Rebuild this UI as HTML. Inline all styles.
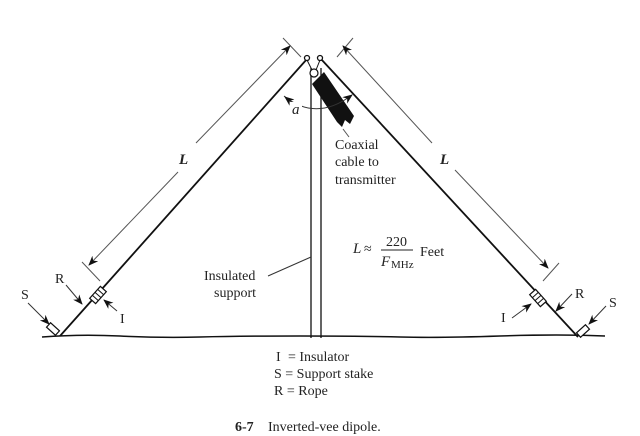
<!DOCTYPE html>
<html><head><style>
body{margin:0;background:#fff;}
svg{display:block;}
text{font-family:"Liberation Serif",serif;fill:#222;}
</style></head><body>
<svg width="640" height="436" viewBox="0 0 640 436" xmlns="http://www.w3.org/2000/svg">
<defs>
<marker id="ar" markerWidth="10" markerHeight="8" refX="9" refY="4" orient="auto" markerUnits="userSpaceOnUse">
<path d="M0,0 L10,4 L0,8 L3,4 Z" fill="#111"/>
</marker>
</defs>
<path d="M42,337 Q80,334 120,336 T200,337 T300,336 T400,337 T500,336 T605,336" fill="none" stroke="#111" stroke-width="1.5"/>
<line x1="311" y1="68" x2="311" y2="338" stroke="#111" stroke-width="1.3"/>
<line x1="321" y1="68" x2="321" y2="338" stroke="#111" stroke-width="1.3"/>
<line x1="307" y1="59" x2="60" y2="336" stroke="#111" stroke-width="1.8"/>
<line x1="321" y1="59" x2="578" y2="337" stroke="#111" stroke-width="1.8"/>
<circle cx="307" cy="58" r="2.5" fill="#fff" stroke="#111" stroke-width="1.3"/>
<circle cx="320" cy="58" r="2.5" fill="#fff" stroke="#111" stroke-width="1.3"/>
<circle cx="314" cy="73" r="4" fill="#fff" stroke="#111" stroke-width="1.2"/>
<line x1="307" y1="60" x2="312" y2="70" stroke="#111"/><line x1="320" y1="60" x2="316" y2="70" stroke="#111"/>
<polygon points="312,84 324,72 354,116 350,124 345,120 342,127 337,122" fill="#111"/>
<path d="M284,96 Q316,122 352,95" fill="none" stroke="#333" stroke-width="1" marker-end="url(#ar)"/>
<path d="M300,109 L285,97" fill="none" stroke="#333" stroke-width="1" marker-end="url(#ar)"/>
<rect x="290" y="102" width="12" height="14" fill="#fff"/>
<text x="292" y="114" font-size="15" font-style="italic">a</text>
<line x1="343" y1="129" x2="349" y2="137" stroke="#555" stroke-width="1"/>
<line x1="283" y1="38" x2="301" y2="57" stroke="#555" stroke-width="1"/>
<line x1="82" y1="262" x2="100" y2="281" stroke="#555" stroke-width="1"/>
<line x1="196" y1="143" x2="290" y2="46" stroke="#555" stroke-width="1" marker-end="url(#ar)"/>
<line x1="178" y1="172" x2="89" y2="265" stroke="#555" stroke-width="1" marker-end="url(#ar)"/>
<text x="179" y="164" font-size="15" font-weight="bold" font-style="italic">L</text>
<line x1="337" y1="57" x2="353" y2="38" stroke="#555" stroke-width="1"/>
<line x1="543" y1="281" x2="559" y2="263" stroke="#555" stroke-width="1"/>
<line x1="432" y1="143" x2="343" y2="46" stroke="#555" stroke-width="1" marker-end="url(#ar)"/>
<line x1="455" y1="170" x2="548" y2="268" stroke="#555" stroke-width="1" marker-end="url(#ar)"/>
<text x="440" y="164" font-size="15" font-weight="bold" font-style="italic">L</text>
<g transform="translate(98,295) rotate(-48)"><rect x="-8" y="-4" width="16" height="8" fill="#fff" stroke="#111" stroke-width="1.2"/><line x1="-4" y1="-4" x2="-4" y2="4" stroke="#111"/><line x1="0" y1="-4" x2="0" y2="4" stroke="#111"/><line x1="4" y1="-4" x2="4" y2="4" stroke="#111"/></g>
<g transform="translate(53,329) rotate(42)"><rect x="-6" y="-3" width="12" height="6" fill="#fff" stroke="#111" stroke-width="1.2"/></g>
<line x1="66" y1="285" x2="82" y2="304" stroke="#333" marker-end="url(#ar)"/>
<line x1="117" y1="311" x2="104" y2="300" stroke="#333" marker-end="url(#ar)"/>
<line x1="28" y1="303" x2="49" y2="324" stroke="#333" marker-end="url(#ar)"/>
<text x="55" y="283" font-size="14">R</text>
<text x="120" y="323" font-size="14">I</text>
<text x="21" y="299" font-size="14">S</text>
<g transform="translate(538,298) rotate(48)"><rect x="-8" y="-4" width="16" height="8" fill="#fff" stroke="#111" stroke-width="1.2"/><line x1="-4" y1="-4" x2="-4" y2="4" stroke="#111"/><line x1="0" y1="-4" x2="0" y2="4" stroke="#111"/><line x1="4" y1="-4" x2="4" y2="4" stroke="#111"/></g>
<g transform="translate(583,331) rotate(-42)"><rect x="-6" y="-3" width="12" height="6" fill="#fff" stroke="#111" stroke-width="1.2"/></g>
<line x1="512" y1="318" x2="531" y2="304" stroke="#333" marker-end="url(#ar)"/>
<line x1="572" y1="294" x2="556" y2="311" stroke="#333" marker-end="url(#ar)"/>
<line x1="606" y1="306" x2="589" y2="324" stroke="#333" marker-end="url(#ar)"/>
<text x="575" y="298" font-size="14">R</text>
<text x="501" y="322" font-size="14">I</text>
<text x="609" y="307" font-size="14">S</text>
<text x="335" y="149" font-size="14">Coaxial</text>
<text x="335" y="166" font-size="14">cable to</text>
<text x="335" y="184" font-size="14">transmitter</text>
<text x="353" y="253" font-size="15" font-style="italic">L</text>
<text x="364" y="253" font-size="14">≈</text>
<text x="386" y="246" font-size="14">220</text>
<line x1="381" y1="250" x2="413" y2="250" stroke="#222" stroke-width="1"/>
<text x="381" y="266" font-size="15" font-style="italic">F</text><text x="391" y="268" font-size="11">MHz</text>
<text x="420" y="256" font-size="14">Feet</text>
<text x="204" y="280" font-size="14">Insulated</text>
<text x="214" y="297" font-size="14">support</text>
<line x1="268" y1="276" x2="311" y2="257" stroke="#333" stroke-width="1"/>
<text x="276" y="361" font-size="14">I</text><text x="288" y="361" font-size="14">= Insulator</text>
<text x="274" y="378" font-size="14">S = Support stake</text>
<text x="274" y="395" font-size="14">R = Rope</text>
<text x="235" y="431" font-size="14" font-weight="bold">6-7</text>
<text x="268" y="431" font-size="14">Inverted-vee dipole.</text>
</svg>
</body></html>
